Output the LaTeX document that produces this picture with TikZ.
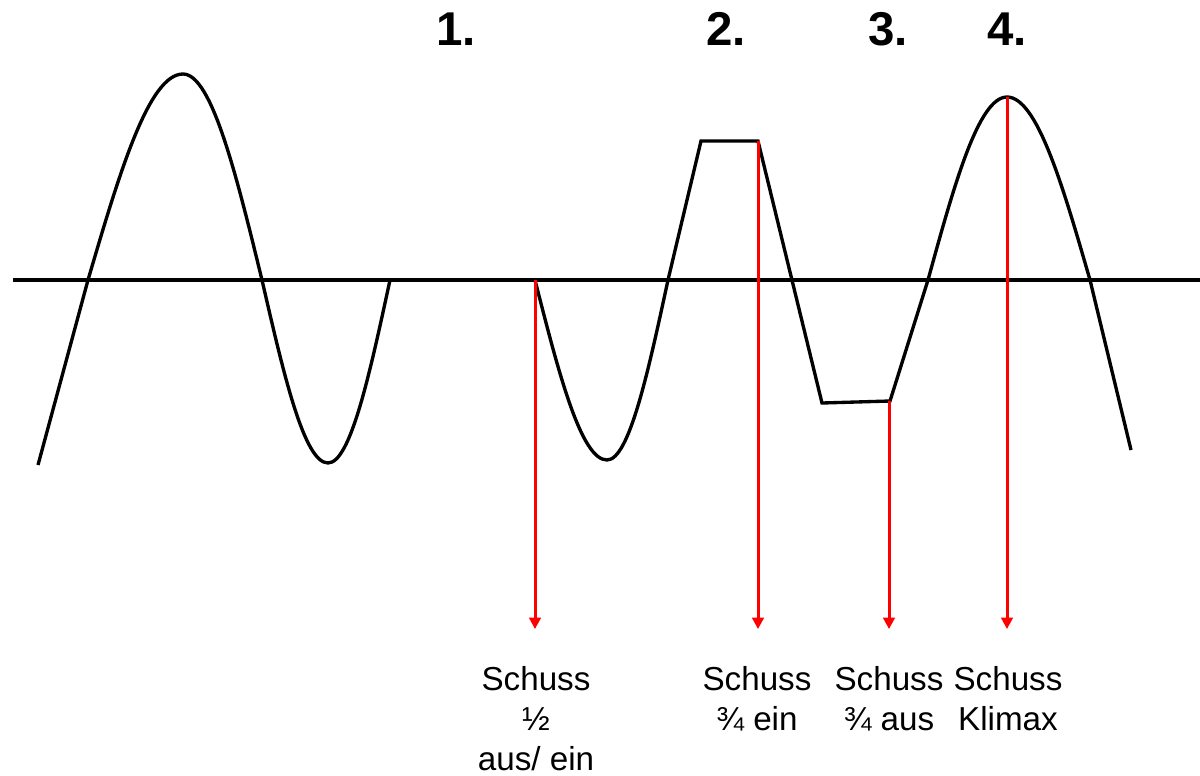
\documentclass[tikz,border=0pt]{standalone}
\usepackage{fontspec}
\setmainfont{Liberation Sans}
\usetikzlibrary{arrows.meta, positioning}

\begin{document}
\begin{tikzpicture}[x=0.02cm, y=-0.02cm, >={Triangle[length=6.5pt,width=6.5pt]},
        every node/.style={inner sep=0pt},
        wave/.style={line width=1.9pt, black},
        shot/.style={->, line width=1.7pt, red, shorten >=21pt},
        num/.style={font=\fontsize{27}{30}\selectfont\bfseries},
        lab/.style={anchor=north, align=center, font=\fontsize{18.9}{22.7}\selectfont}]
      \useasboundingbox (0,0) rectangle (1200,775);
      % axis
      \draw[wave] (13,280) -- (1200,280);
      % curve
      \draw[wave] (38,465) -- (88,280) sin (183,74) cos (262,280) sin (328,463) cos (390,280);
      \draw[wave] (535,280) sin (607,460) cos (668,280) -- (701,141) -- (758,141)
        -- (822,403) -- (890,401) -- (928,280) sin (1007,97) cos (1090,280) -- (1131,450);
      \coordinate (s1) at (535,280);
      \coordinate (s2) at (758,141);
      \coordinate (s3) at (889,401);
      \coordinate (s4) at (1007,97);
      \node[num] (n1) at (456,29) {1.};
      \node[num] (n2) at (726,29) {2.};
      \node[num] (n3) at (888,29) {3.};
      \node[num] (n4) at (1007,29) {4.};
      \node[lab] (l1) at (536,666) {Schuss\\½\\aus/ ein};
      \node[lab] (l2) at (757,666) {Schuss\\¾ ein};
      \node[lab] (l3) at (889,666) {Schuss\\¾ aus};
      \node[lab] (l4) at (1008,666) {Schuss\\Klimax};
      \draw[shot] (s1) -- (s1 |- l1.north);
      \draw[shot] (s2) -- (s2 |- l2.north);
      \draw[shot] (s3) -- (s3 |- l3.north);
      \draw[shot] (s4) -- (s4 |- l4.north);
    \end{tikzpicture}
\end{document}
